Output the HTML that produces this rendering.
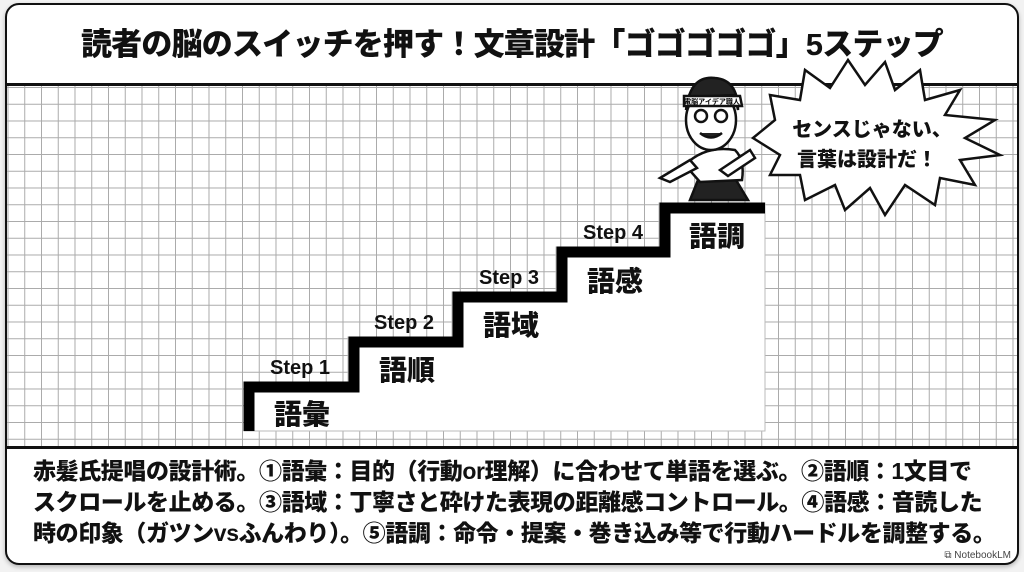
<!DOCTYPE html>
<html><head><meta charset="utf-8"><style>
html,body{margin:0;padding:0;background:#f2f2f2;}
body{width:1024px;height:572px;position:relative;overflow:hidden;font-family:"Liberation Sans","Noto Sans CJK JP",sans-serif;}
.card{position:absolute;left:5px;top:3px;width:1010px;height:558px;background:#fff;border:2px solid #111;border-radius:14px;overflow:hidden;box-shadow:0 2px 4px rgba(0,0,0,.25);}
.title{position:absolute;left:0;top:0;width:1010px;height:78px;text-align:center;font-weight:900;font-size:31px;line-height:80px;letter-spacing:-0.8px;color:#111;}
.grid{position:absolute;left:0;top:78px;width:1010px;height:360px;border-top:3px solid #111;border-bottom:3px solid #111;
background-color:#fff;
background-image:linear-gradient(to right,#aaa 1.2px,transparent 1.2px),linear-gradient(to bottom,#aaa 1.2px,transparent 1.2px);
background-size:16.75px 16.75px;background-position:0.5px 1px;}
.desc{position:absolute;left:26px;top:451px;font-weight:900;font-size:23px;line-height:31px;color:#111;letter-spacing:-0.4px;white-space:nowrap;}
.nb{position:absolute;right:6px;bottom:2px;font-size:10px;color:#444;}
</style></head><body>
<div class="card">
<div class="title">読者の脳のスイッチを押す！文章設計「ゴゴゴゴゴ」5ステップ</div>
<div class="grid"></div>
<div class="desc">赤髪氏提唱の設計術。①語彙：目的（行動or理解）に合わせて単語を選ぶ。②語順：1文目で<br>スクロールを止める。③語域：丁寧さと砕けた表現の距離感コントロール。④語感：音読した<br>時の印象（ガツンvsふんわり）。⑤語調：命令・提案・巻き込み等で行動ハードルを調整する。</div>
<div class="nb">⧉ NotebookLM</div>
</div>
<svg width="1024" height="572" style="position:absolute;left:0;top:0" xmlns="http://www.w3.org/2000/svg">
<polygon points="244,431 244,382 348,382 348,337 452,337 452,292 556,292 556,247 659,247 659,203 765,203 765,431" fill="#fff" stroke="#bbb" stroke-width="1"/>
<polyline points="249,431 249,387 354,387 354,342 458,342 458,297 562,297 562,252 665,252 665,208 765,208" fill="none" stroke="#000" stroke-width="11"/>
<g font-family="Liberation Sans,sans-serif" font-weight="bold" font-size="20" fill="#111" text-anchor="middle">
<text x="300" y="374">Step 1</text><text x="404" y="329">Step 2</text><text x="509" y="284">Step 3</text><text x="613" y="239">Step 4</text>
</g>
<g font-family="Liberation Sans,Noto Sans CJK JP,sans-serif" font-weight="900" font-size="28" fill="#111" text-anchor="middle">
<text x="302" y="424">語彙</text><text x="407" y="380">語順</text><text x="511" y="335">語域</text><text x="615" y="291">語感</text><text x="717" y="246">語調</text>
</g>
<polygon points="753,138 775,120 770,95 800,100 805,70 830,88 848,60 865,85 885,62 895,90 920,70 925,100 960,90 945,115 995,120 965,138 1000,155 960,160 975,185 940,178 935,205 905,185 885,215 870,188 845,210 835,185 805,200 800,175 770,175 780,155" fill="#fff" stroke="#111" stroke-width="2.5" stroke-linejoin="miter"/>
<g font-family="Liberation Sans,Noto Sans CJK JP,sans-serif" font-weight="900" font-size="20" fill="#111" text-anchor="middle">
<text x="872" y="136">センスじゃない、</text><text x="867" y="166">言葉は設計だ！</text>
</g>
<g stroke="#111" stroke-width="2.5" fill="#fff">
<path d="M690 200 L700 175 L730 170 L748 200 Z" fill="#222"/>
<path d="M685 165 Q705 145 735 150 Q745 160 742 180 L700 182 Z"/>
<path d="M660 178 L690 160 L697 168 L670 182 Z"/>
<path d="M720 170 L750 150 L755 158 L728 176 Z"/>
<ellipse cx="711" cy="120" rx="25" ry="30"/>
<path d="M686 110 Q690 75 715 78 Q738 80 738 110 L735 95 L690 97 Z" fill="#222"/>
<path d="M684 96 L740 96 L742 106 L684 106 Z"/>
<circle cx="701" cy="116" r="6"/><circle cx="721" cy="116" r="6"/>
<path d="M700 133 Q711 142 722 133" fill="#222"/>
</g>
<text x="712" y="104" font-size="7" text-anchor="middle" font-family="Noto Sans CJK JP,sans-serif" font-weight="bold">電脳アイデア職人</text>
</svg>
</body></html>
